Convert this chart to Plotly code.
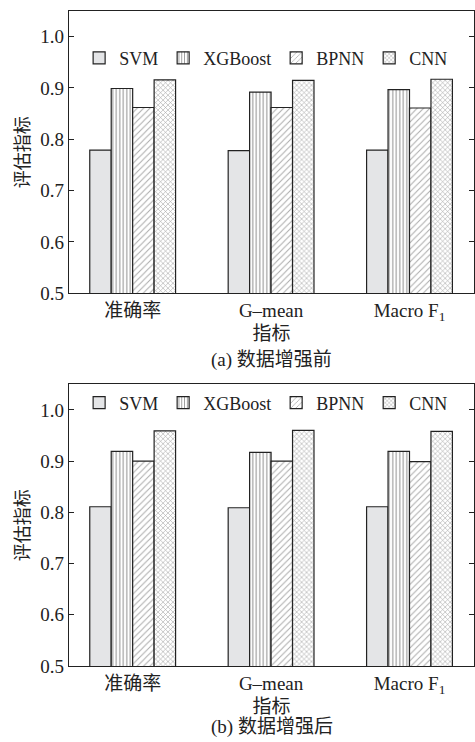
import plotly.graph_objects as go

categories = ["准确率", "G–mean", "Macro F<sub>1</sub>"]
models = ["SVM", "XGBoost", "BPNN", "CNN"]

before_svm = [0.779, 0.778, 0.779]
before_xgb = [0.899, 0.892, 0.897]
before_bpnn = [0.862, 0.862, 0.861]
before_cnn = [0.916, 0.915, 0.917]

after_svm = [0.811, 0.809, 0.811]
after_xgb = [0.919, 0.917, 0.919]
after_bpnn = [0.900, 0.900, 0.899]
after_cnn = [0.959, 0.960, 0.958]

yticks = [0.5, 0.6, 0.7, 0.8, 0.9, 1.0]
ytick_text = ["0.5", "0.6", "0.7", "0.8", "0.9", "1.0"]

FONT = "Liberation Serif, 'Noto Sans CJK SC', serif"
INK = "#222222"

styles = {
    "SVM": dict(color="#e4e5e7", pattern=dict(shape="")),
    "XGBoost": dict(color="white", pattern=dict(shape="|", size=3.5, solidity=0.3, fgcolor=INK, bgcolor="white", fillmode="overlay")),
    "BPNN": dict(color="white", pattern=dict(shape="/", size=4.5, solidity=0.22, fgcolor="#555555", bgcolor="white", fillmode="overlay")),
    "CNN": dict(color="white", pattern=dict(shape="x", size=3.5, solidity=0.3, fgcolor="#444444", bgcolor="white", fillmode="overlay")),
}

fig = go.Figure()

panels = [
    ("x", "y", "legend", [before_svm, before_xgb, before_bpnn, before_cnn]),
    ("x2", "y2", "legend2", [after_svm, after_xgb, after_bpnn, after_cnn]),
]
for xa, ya, lg, series in panels:
    for name, vals in zip(models, series):
        st = styles[name]
        fig.add_trace(go.Bar(
            x=categories, y=vals, name=name, xaxis=xa, yaxis=ya, legend=lg,
            marker=dict(color=st["color"], pattern=st["pattern"],
                        line=dict(color=INK, width=1.2)),
        ))

axis_common_x = dict(
    showline=True, linecolor=INK, linewidth=1.2, mirror=True, ticks="",
    range=[-0.46, 2.466], showgrid=False, tickfont=dict(family=FONT, size=19, color=INK),
    title=dict(text="指标", font=dict(family=FONT, size=19, color=INK), standoff=3),
)
axis_common_y = dict(
    showline=True, linecolor=INK, linewidth=1.2, mirror="ticks", ticks="inside",
    ticklen=5, tickcolor=INK, range=[0.5, 1.05], tickvals=yticks, ticktext=ytick_text,
    showgrid=False, zeroline=False, tickfont=dict(family=FONT, size=19, color=INK),
    title=dict(text="评估指标", font=dict(family=FONT, size=18, color=INK), standoff=6),
)

legend_common = dict(
    orientation="h", xanchor="left", yanchor="middle", bgcolor="rgba(0,0,0,0)",
    font=dict(family=FONT, size=18, color=INK), itemwidth=30, tracegroupgap=0,
)

fig.update_layout(
    width=475, height=742,
    margin=dict(l=69, r=1, t=11, b=76),
    paper_bgcolor="white", plot_bgcolor="white",
    barmode="group", bargap=0.38, bargroupgap=0,
    xaxis=dict(**axis_common_x, anchor="y", domain=[0, 1]),
    yaxis=dict(**axis_common_y, anchor="x", domain=[0.569, 1]),
    xaxis2=dict(**axis_common_x, anchor="y2", domain=[0, 1]),
    yaxis2=dict(**axis_common_y, anchor="x2", domain=[0, 0.430]),
    legend=dict(**legend_common, x=0.025, y=0.928),
    legend2=dict(**legend_common, x=0.025, y=0.4015),
    showlegend=True,
    annotations=[
        dict(text="(a) 数据增强前", xref="paper", yref="paper", x=0.5, y=(666 - 360) / 655,
             xanchor="center", yanchor="middle", showarrow=False,
             font=dict(family=FONT, size=19, color=INK)),
        dict(text="(b) 数据增强后", xref="paper", yref="paper", x=0.5, y=(666 - 727) / 655,
             xanchor="center", yanchor="middle", showarrow=False,
             font=dict(family=FONT, size=19, color=INK)),
    ],
)

fig.write_html("out.html")
